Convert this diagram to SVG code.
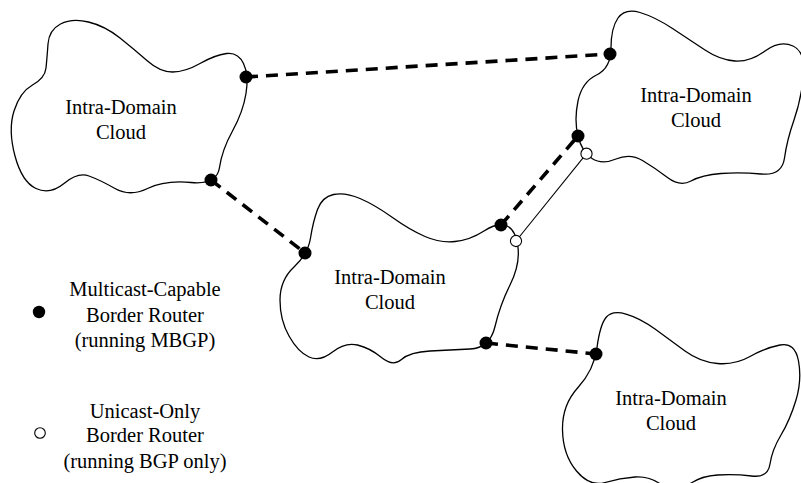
<svg xmlns="http://www.w3.org/2000/svg" width="801" height="483" viewBox="0 0 801 483">
<style>
.cloud{fill:none;stroke:#000;stroke-width:1.3}
.lbl{font-family:"Liberation Serif","Times New Roman",serif;font-size:20.5px;fill:#000;text-anchor:middle}
.mb{fill:#000}
.uc{fill:#fff;stroke:#000;stroke-width:1.1}
.peer{stroke:#000;stroke-width:3.6;stroke-dasharray:12 8;fill:none}
.uni{stroke:#000;stroke-width:1.1;fill:none}
</style>
<rect width="801" height="483" fill="#fff"/>
<g id="connectors">
<line class="peer" x1="246" y1="77" x2="610" y2="54"/>
<line class="peer" x1="211" y1="180" x2="305" y2="253"/>
<line class="peer" x1="501" y1="225" x2="578" y2="136"/>
<line class="peer" x1="486" y1="343" x2="596" y2="354"/>
<line class="uni" x1="516" y1="241" x2="586.5" y2="153.7"/>
</g>
<g id="cloud1">
<path class="cloud" d="M 48,44 Q 49,30 60.5,24 Q 72,18 88.5,22 Q 105,26 120,38 Q 135,50 147.5,61 Q 160,72 172.5,72 Q 185,72 200,63.5 Q 215,55 226.5,53.5 Q 238,52 243.5,63.5 Q 249,75 246,93.5 Q 243,112 232.5,131 Q 222,150 219.5,167.5 Q 217,185 191,182.5 Q 165,180 147.5,188.5 Q 130,197 115,188.5 Q 100,180 89,176 Q 78,172 64,183.5 Q 50,195 36,188.5 Q 22,182 15,156 Q 8,130 14,111 Q 20,92 32.5,85 Q 45,78 46,68 Q 47,58 48,44 Z"/>
<text class="lbl" x="121" y="113.5">Intra-Domain</text>
<text class="lbl" x="121" y="138.5">Cloud</text>
<circle class="mb" cx="246" cy="77" r="6.5"/>
<circle class="mb" cx="211" cy="180" r="6.5"/>
</g>
<g id="cloud2">
<path class="cloud" d="M 611,48 Q 611,28 618,18 Q 625,8 640,12.5 Q 655,17 672.5,28.5 Q 690,40 705,50 Q 720,60 735,61 Q 750,62 765,51 Q 780,40 793,46 Q 806,52 803.5,76 Q 801,100 794,120 Q 787,140 784.5,158 Q 782,176 761,174 Q 740,172 721,173.5 Q 702,175 691,181 Q 680,187 667.5,177.5 Q 655,168 642.5,160.5 Q 630,153 616,159 Q 602,165 592,158.5 Q 582,152 578,136 Q 574,120 578,101 Q 582,82 596.5,75 Q 611,68 611,48 Z"/>
<text class="lbl" x="696" y="101.5">Intra-Domain</text>
<text class="lbl" x="696" y="126.5">Cloud</text>
<circle class="mb" cx="610" cy="54" r="6.5"/>
<circle class="mb" cx="578" cy="136" r="6.5"/>
<circle class="uc" cx="586.5" cy="153.7" r="5.6"/>
</g>
<g id="cloud3">
<path class="cloud" d="M 317.5,209.5 Q 322,197 333.5,194.5 Q 345,192 360,198.5 Q 375,205 392.5,217.5 Q 410,230 425,236.5 Q 440,243 455,241.5 Q 470,240 484,231 Q 498,222 507,226 Q 516,230 518,247.5 Q 520,265 510,285 Q 500,305 495,326.5 Q 490,348 470,349 Q 450,350 430,351 Q 410,352 401.5,359.5 Q 393,367 381.5,357.5 Q 370,348 357.5,345 Q 345,342 332.5,352 Q 320,362 309,357 Q 298,352 289,336 Q 280,320 280,300 Q 280,280 294,267 Q 308,254 310.5,238 Q 313,222 317.5,209.5 Z"/>
<text class="lbl" x="390" y="283.5">Intra-Domain</text>
<text class="lbl" x="390" y="308.5">Cloud</text>
<circle class="mb" cx="305" cy="253" r="6.5"/>
<circle class="mb" cx="501" cy="225" r="6.5"/>
<circle class="mb" cx="486" cy="343" r="6.5"/>
<circle class="uc" cx="516" cy="241" r="5.6"/>
</g>
<g id="cloud4">
<path class="cloud" d="M 606,317.5 Q 612,310 626,314 Q 640,318 655,329 Q 670,340 685,351 Q 700,362 717.5,363.5 Q 735,365 750,356.5 Q 765,348 780,345 Q 795,342 798.5,361 Q 802,380 796,400 Q 790,420 781,435 Q 772,450 770,464 Q 768,478 751.5,476 Q 735,474 717.5,475 Q 700,476 687.5,485.5 Q 675,495 662.5,485.5 Q 650,476 635,477 Q 620,478 605,482.5 Q 590,487 576.5,471 Q 563,455 562.5,430 Q 562,405 578,387.5 Q 594,370 597,347.5 Q 600,325 606,317.5 Z"/>
<text class="lbl" x="671" y="405">Intra-Domain</text>
<text class="lbl" x="671" y="430">Cloud</text>
<circle class="mb" cx="596" cy="354" r="6.5"/>
</g>
<g id="legend-multicast">
<circle class="mb" cx="39" cy="312" r="6.2"/>
<text class="lbl" x="145" y="295.5">Multicast-Capable</text>
<text class="lbl" x="145" y="321.5">Border Router</text>
<text class="lbl" x="145" y="347">(running MBGP)</text>
</g>
<g id="legend-unicast">
<circle class="uc" cx="40" cy="433" r="5.3"/>
<text class="lbl" x="145" y="418">Unicast-Only</text>
<text class="lbl" x="145" y="442">Border Router</text>
<text class="lbl" x="145" y="468">(running BGP only)</text>
</g>
</svg>
